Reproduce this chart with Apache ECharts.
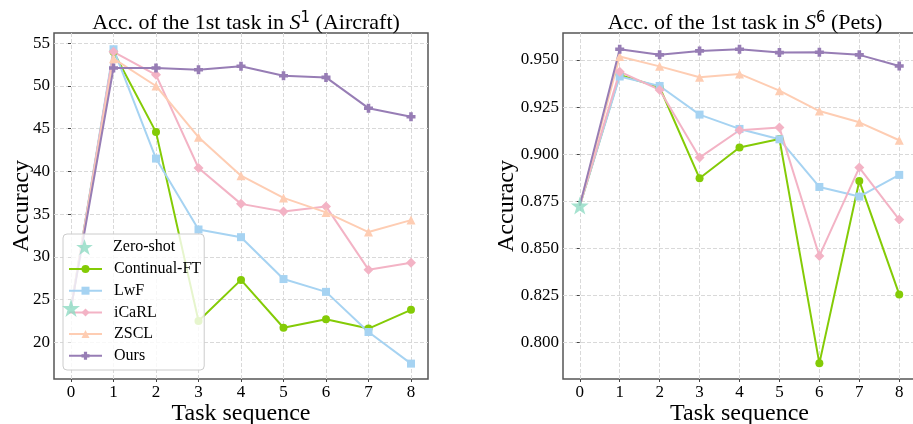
<!DOCTYPE html>
<html>
<head>
<meta charset="utf-8">
<script src="https://cdn.jsdelivr.net/npm/echarts@6/dist/echarts.min.js"></script>
<style>html,body{margin:0;padding:0;background:#fff}#c{width:913px;height:424px}</style>
</head>
<body>
<div id="c"></div>
<script>
// ---- data ----
var tasks = [0, 1, 2, 3, 4, 5, 6, 7, 8];
var seriesNames = ['Zero-shot', 'Continual-FT', 'LwF', 'iCaRL', 'ZSCL', 'Ours'];

// Aircraft (left)
var airZeroShot = 24.0;
var airContinualFT = [24.0, 54.0, 44.6, 22.5, 27.3, 21.7, 22.7, 21.6, 23.8];
var airLwF         = [24.0, 54.3, 41.5, 33.2, 32.3, 27.4, 25.9, 21.2, 17.5];
var airICaRL       = [24.0, 54.0, 51.3, 40.4, 36.2, 35.3, 35.9, 28.5, 29.3];
var airZSCL        = [24.0, 53.2, 50.0, 44.0, 39.5, 36.9, 35.2, 32.9, 34.3];
var airOurs        = [24.0, 52.1, 52.1, 51.9, 52.3, 51.2, 51.0, 47.4, 46.4];
var airYTicks = [20, 25, 30, 35, 40, 45, 50, 55];

// Pets (right)
var petZeroShot = 0.8727;
var petContinualFT = [0.8727, 0.9420, 0.9355, 0.8872, 0.9035, 0.9081, 0.7890, 0.8858, 0.8256];
var petLwF         = [0.8727, 0.9412, 0.9362, 0.9210, 0.9134, 0.9079, 0.8826, 0.8775, 0.8890];
var petICaRL       = [0.8727, 0.9438, 0.9341, 0.8982, 0.9127, 0.9141, 0.8460, 0.8929, 0.8653];
var petZSCL        = [0.8727, 0.9518, 0.9466, 0.9408, 0.9426, 0.9337, 0.9229, 0.9169, 0.9074];
var petOurs        = [0.8727, 0.9557, 0.9527, 0.9548, 0.9557, 0.9539, 0.9541, 0.9527, 0.9468];
var petYTicks = [0.800, 0.825, 0.850, 0.875, 0.900, 0.925, 0.950];

// ---- styles ----
var FONT = '"Liberation Serif", "DejaVu Serif", serif';
var colors = {
  'Zero-shot': '#8edbc3',
  'Continual-FT': '#84cb06',
  'LwF': '#a6d3f2',
  'iCaRL': '#f3b3c5',
  'ZSCL': '#fecdb3',
  'Ours': '#977db5'
};
var STAR = 'path://M50,0 L61.8,35.3 L99,35.3 L69,57.1 L80.4,92.7 L50,70.9 L19.6,92.7 L31,57.1 L1,35.3 L38.2,35.3 Z';
// same star centred in a wide box (for the legend swatch)
var STAR_WIDE = 'path://M0,50 L0.01,50 Z M194,50 L194.01,50 Z M97,0 L108.8,35.3 L146,35.3 L116,57.1 L127.4,92.7 L97,70.9 L66.6,92.7 L78,57.1 L48,35.3 L85.2,35.3 Z';
var symbols = {
  'Continual-FT': 'circle',
  'LwF': 'rect',
  'iCaRL': 'diamond',
  'ZSCL': 'triangle',
  'Ours': 'path://M3,0H7V3H10V7H7V10H3V7H0V3H3Z'
};
var symSize = {'Continual-FT': 8, 'LwF': 8, 'iCaRL': 10, 'ZSCL': 9, 'Ours': 9};

function lineSeries(name, vals, idx) {
  return {
    name: name, type: 'line', xAxisIndex: idx, yAxisIndex: idx,
    symbol: symbols[name], symbolSize: symSize[name],
    lineStyle: {width: 2, color: colors[name]},
    itemStyle: {color: colors[name]},
    data: vals.map(function (v, i) {
      var d = {value: [tasks[i], v]};
      if (i === 0) d.symbol = 'none';
      return d;
    }),
    animation: false
  };
}
function zeroSeries(v, idx) {
  return {
    name: 'Zero-shot', type: 'scatter', xAxisIndex: idx, yAxisIndex: idx,
    symbol: STAR, symbolSize: 18, itemStyle: {color: colors['Zero-shot']},
    data: [[tasks[0], v]], z: 5, animation: false
  };
}
function xAxis(idx, mn, mx) {
  return {
    type: 'value', gridIndex: idx, min: mn, max: mx,
    name: 'Task sequence', nameLocation: 'middle', nameGap: 23, nameMoveOverlap: false,
    nameTextStyle: {fontFamily: FONT, fontSize: 24, color: '#000'},
    axisLine: {show: false},
    axisTick: {show: true, length: 3, customValues: tasks, lineStyle: {color: '#444'}},
    axisLabel: {customValues: tasks, fontFamily: FONT, fontSize: 17, color: '#000', margin: 5},
    splitLine: {show: true, lineStyle: {type: 'dashed', color: '#d9d9d9', width: 1}}
  };
}
function yAxis(idx, mn, mx, ticks, dec, gap) {
  return {
    type: 'value', gridIndex: idx, min: mn, max: mx,
    name: 'Accuracy', nameLocation: 'middle', nameGap: gap, nameMoveOverlap: false,
    nameTextStyle: {fontFamily: FONT, fontSize: 24, color: '#000'},
    axisLine: {show: false},
    axisTick: {show: true, length: 3, customValues: ticks, lineStyle: {color: '#444'}},
    axisLabel: {customValues: ticks, fontFamily: FONT, fontSize: 17, color: '#000', margin: 4,
      formatter: function (v) { return dec ? v.toFixed(dec) : String(Math.round(v)); }},
    splitLine: {show: true, lineStyle: {type: 'dashed', color: '#d9d9d9', width: 1}}
  };
}
function title(left, text, sup, tail) {
  return {
    text: '{a|' + text + '}{s|S}{p|' + sup + '}{a|' + tail + '}',
    left: left, top: 6, textAlign: 'center',
    textStyle: {
      fontWeight: 'normal',
      rich: {
        a: {fontFamily: FONT, fontSize: 22, fontWeight: 'normal', color: '#000'},
        s: {fontFamily: FONT, fontSize: 22, fontWeight: 'normal', fontStyle: 'italic', color: '#000'},
        p: {fontFamily: '"DejaVu Sans", sans-serif', fontSize: 15, fontWeight: 'normal', color: '#000', padding: [0, 0, 10, 0]}
      }
    }
  };
}

function legendText() {
  return {fontFamily: FONT, fontSize: 16, color: '#000', padding: [0, 0, 0, 7]};
}

var chart = echarts.init(document.getElementById('c'), null, {renderer: 'canvas'});
var option = {
  backgroundColor: '#fff',
  animation: false,
  title: [
    title(241, 'Acc. of the 1st task in ', '1', ' (Aircraft)'),
    title(740, 'Acc. of the 1st task in ', '6', ' (Pets)')
  ],
  grid: [
    {left: 54, width: 374, top: 33, bottom: 45, outerBoundsMode: 'none', containLabel: false,
     show: true, borderColor: '#555', borderWidth: 1.5, backgroundColor: 'transparent'},
    {left: 563, width: 353, top: 33, bottom: 45, outerBoundsMode: 'none', containLabel: false,
     show: true, borderColor: '#555', borderWidth: 1.5, backgroundColor: 'transparent'}
  ],
  xAxis: [xAxis(0, -0.4, 8.4), xAxis(1, -0.42, 8.42)],
  yAxis: [yAxis(0, 15.7, 56.2, airYTicks, 0, 20), yAxis(1, 0.7807, 0.9643, petYTicks, 3, 44)],
  legend: [
    {
      data: [{name: 'Zero-shot', icon: STAR_WIDE}], orient: 'vertical', left: 63, top: 234,
      itemWidth: 33, itemHeight: 17,
      padding: [5, 29, 115, 5],
      backgroundColor: 'rgba(255,255,255,0.8)', borderColor: '#cccccc', borderWidth: 1, borderRadius: 4,
      textStyle: legendText(), z: 4
    },
    {
      data: seriesNames.slice(1), orient: 'vertical', left: 68, top: 261,
      itemWidth: 33, itemHeight: 10, itemGap: 5.7,
      padding: 0,
      textStyle: legendText(), z: 5
    }
  ],
  series: [
    lineSeries('Continual-FT', airContinualFT, 0),
    lineSeries('LwF', airLwF, 0),
    lineSeries('iCaRL', airICaRL, 0),
    lineSeries('ZSCL', airZSCL, 0),
    lineSeries('Ours', airOurs, 0),
    zeroSeries(airZeroShot, 0),
    lineSeries('Continual-FT', petContinualFT, 1),
    lineSeries('LwF', petLwF, 1),
    lineSeries('iCaRL', petICaRL, 1),
    lineSeries('ZSCL', petZSCL, 1),
    lineSeries('Ours', petOurs, 1),
    zeroSeries(petZeroShot, 1)
  ]
};
chart.setOption(option);
</script>
</body>
</html>
